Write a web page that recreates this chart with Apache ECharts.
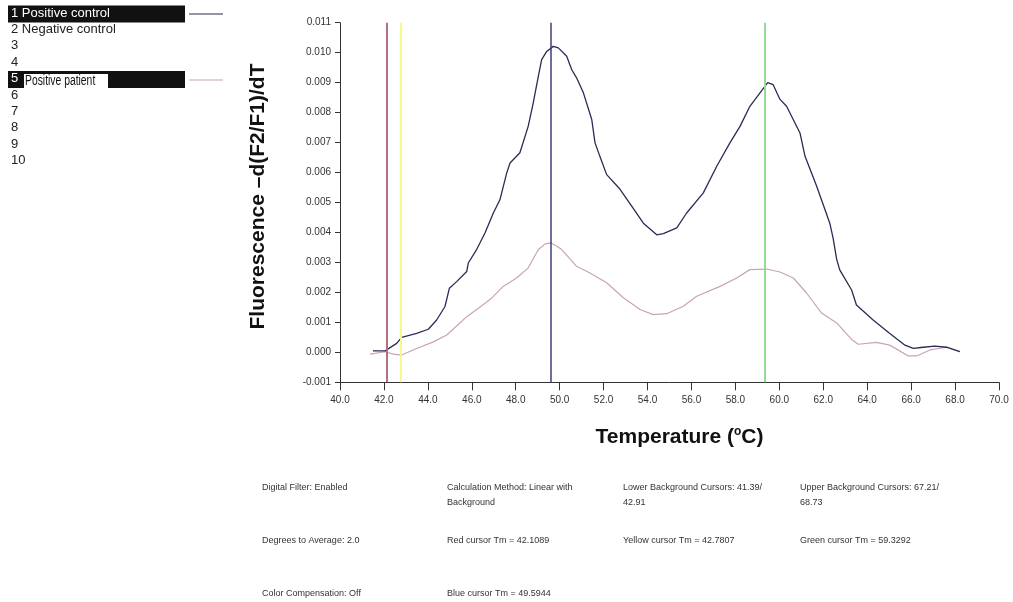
<!DOCTYPE html>
<html>
<head>
<meta charset="utf-8">
<script src="https://cdn.jsdelivr.net/npm/echarts@6/dist/echarts.min.js"></script>
<style>
  html, body { margin: 0; padding: 0; background: #fff; }
  #chart { width: 1013px; height: 602px; }
</style>
</head>
<body>
<div id="chart"></div>
<script>
// melting curve, sample 1 (positive control): temperature / -d(F2/F1)/dT
var posTemp = [41.50, 42.05, 42.58, 42.81, 43.49, 44.02, 44.40, 44.78, 44.98, 45.31, 45.77, 45.84, 46.22, 46.60, 46.98, 47.28,
  47.59, 47.74, 48.19, 48.57, 48.80, 49.03, 49.18, 49.41, 49.71, 49.94, 50.32, 50.55, 50.77, 51.08, 51.46, 51.61, 51.83,
  52.14, 52.74, 53.35, 53.81, 54.42, 54.72, 55.33, 55.78, 56.54, 57.15, 57.75, 58.21, 58.66, 59.12, 59.47, 59.72, 60.03,
  60.33, 60.94, 61.17, 61.70, 62.08, 62.30, 62.45, 62.61, 62.75, 63.29, 63.51, 64.27, 65.03, 65.72, 66.10, 66.55, 67.08,
  67.61, 68.22];
var posFluor = [0.00005, 0.00005, 0.00030, 0.00050, 0.00063, 0.00077, 0.00108, 0.00153, 0.00214, 0.00236, 0.00270, 0.00298,
  0.00343, 0.00398, 0.00465, 0.00509, 0.00599, 0.00632, 0.00666, 0.00755, 0.00833, 0.00922, 0.00977, 0.01004, 0.01021,
  0.01016, 0.00988, 0.00943, 0.00916, 0.00866, 0.00777, 0.00699, 0.00654, 0.00593, 0.00545, 0.00480, 0.00431, 0.00392,
  0.00396, 0.00415, 0.00465, 0.00532, 0.00621, 0.00699, 0.00754, 0.00821, 0.00866, 0.00900, 0.00893, 0.00844, 0.00821,
  0.00732, 0.00654, 0.00554, 0.00476, 0.00430, 0.00380, 0.00310, 0.00275, 0.00208, 0.00158, 0.00108, 0.00063, 0.00024,
  0.00013, 0.00017, 0.00021, 0.00017, 0.00002];

// sample 5 (positive patient)
var patTemp = [41.37, 42.05, 42.43, 42.81, 43.49, 44.25, 44.86, 45.31, 45.77, 46.30, 46.83, 47.43, 48.04, 48.57, 49.03,
  49.35, 49.60, 49.86, 50.09, 50.77, 51.38, 52.14, 52.90, 53.66, 54.26, 54.87, 55.63, 56.24, 57.30, 58.06, 58.66, 59.42,
  60.03, 60.64, 61.24, 61.92, 62.61, 63.29, 63.59, 64.42, 65.03, 65.87, 66.25, 66.86, 67.61, 68.22];
var patFluor = [-0.00006, 0.00002, -0.00006, -0.00009, 0.00013, 0.00035, 0.00058, 0.00088, 0.00119, 0.00147, 0.00176,
  0.00220, 0.00248, 0.00282, 0.00343, 0.00362, 0.00365, 0.00355, 0.00343, 0.00287, 0.00265, 0.00232, 0.00182, 0.00143,
  0.00126, 0.00129, 0.00154, 0.00187, 0.00220, 0.00248, 0.00276, 0.00278, 0.00268, 0.00248, 0.00198, 0.00131, 0.00098,
  0.00043, 0.00027, 0.00033, 0.00024, -0.00012, -0.00012, 0.00008, 0.00017, 0.00002];

// cursors
var cursorNames = ['Red', 'Yellow', 'Blue', 'Green'];
var cursorTm = [42.1089, 42.7807, 49.5944, 59.3292];
var cursorColors = ['#b4707e', '#f8f88a', '#3e3e78', '#94dc94'];

var sampleLabels = ['1 Positive control', '2 Negative control', '3', '4', '5', '6', '7', '8', '9', '10'];

var infoText = [
  ['Digital Filter: Enabled', 'Calculation Method: Linear with\nBackground', 'Lower Background Cursors: 41.39/\n42.91', 'Upper Background Cursors: 67.21/\n68.73'],
  ['Degrees to Average: 2.0', 'Red cursor Tm = 42.1089', 'Yellow cursor Tm = 42.7807', 'Green cursor Tm = 59.3292'],
  ['Color Compensation: Off', 'Blue cursor Tm = 49.5944']
];

function zip(a, b) {
  var out = [];
  for (var i = 0; i < a.length; i++) out.push([a[i], b[i]]);
  return out;
}

var chart = echarts.init(document.getElementById('chart'));

// legend list on the left
var graphics = [];
for (var i = 0; i < sampleLabels.length; i++) {
  var y = 14 + i * 16.4;
  if (i === 0 || i === 4) {
    graphics.push({type: 'rect', left: 8, top: y - 8.5, shape: {width: 177, height: 17}, style: {fill: '#111'}});
  }
  graphics.push({
    type: 'text', left: 11, top: y - 7.5,
    style: {text: sampleLabels[i], fill: (i === 0 || i === 4) ? '#fff' : '#222', font: '13px Arial'}
  });
}
graphics.push({type: 'rect', left: 24, top: 74, shape: {width: 84, height: 16}, style: {fill: '#fff'}});
graphics.push({type: 'text', x: 25, y: 74.5, scaleX: 0.74, scaleY: 1, style: {text: 'Positive patient', fill: '#111', font: '14px Arial'}});
graphics.push({type: 'line', shape: {x1: 189, y1: 14, x2: 223, y2: 14}, style: {stroke: '#2b2b55', lineWidth: 1}});
graphics.push({type: 'line', shape: {x1: 189, y1: 80, x2: 223, y2: 80}, style: {stroke: '#c9a3b6', lineWidth: 1}});

// run settings below the chart
var colX = [262, 447, 623, 800];
var rowY = [480, 533, 586];
for (var r = 0; r < infoText.length; r++) {
  for (var c = 0; c < infoText[r].length; c++) {
    graphics.push({
      type: 'text', left: colX[c], top: rowY[r],
      style: {text: infoText[r][c], fill: '#333', font: '9px Arial', lineHeight: 15}
    });
  }
}

var option = {
  animation: false,
  backgroundColor: '#fff',
  grid: {left: 340, top: 22.7, right: 14, bottom: 219.7, containLabel: false},
  xAxis: {
    type: 'value', min: 40, max: 70, interval: 2,
    name: 'Temperature ({sup|o}C)',
    nameLocation: 'middle', nameGap: 43,
    nameTextStyle: {
      fontFamily: 'Arial', fontWeight: 'bold', fontSize: 21, color: '#111', padding: [0, 0, 0, 20],
      rich: {sup: {fontFamily: 'Arial', fontWeight: 'bold', fontSize: 12, color: '#111', verticalAlign: 'top', lineHeight: 24}}
    },
    axisLine: {show: true, onZero: false, lineStyle: {color: '#333', width: 1}},
    axisTick: {show: true, length: 8, lineStyle: {color: '#333'}},
    axisLabel: {margin: 13, fontFamily: 'Arial', fontSize: 10, color: '#333', formatter: function (v) { return v.toFixed(1); }},
    splitLine: {show: false}
  },
  yAxis: {
    type: 'value', min: -0.001, max: 0.011, interval: 0.001,
    name: 'Fluorescence \u2013d(F2/F1)/dT',
    nameLocation: 'middle', nameGap: 71,
    nameTextStyle: {fontFamily: 'Arial', fontWeight: 'bold', fontSize: 21, color: '#111', padding: [0, 0, 0, 12]},
    axisLine: {show: true, onZero: false, lineStyle: {color: '#333', width: 1}},
    axisTick: {show: true, length: 5, lineStyle: {color: '#333'}},
    axisLabel: {margin: 9, fontFamily: 'Arial', fontSize: 10, color: '#333', formatter: function (v) { return v.toFixed(3); }},
    splitLine: {show: false}
  },
  series: [
    {
      name: 'Positive patient', type: 'line', data: zip(patTemp, patFluor),
      symbol: 'none', smooth: false, lineStyle: {color: '#c9a3b6', width: 1.2}
    },
    {
      name: 'Positive control', type: 'line', data: zip(posTemp, posFluor),
      symbol: 'none', smooth: false, lineStyle: {color: '#2b2b55', width: 1.3}
    },
    {
      name: 'cursors', type: 'line', data: [], z: 5,
      markLine: {
        silent: true, symbol: ['none', 'none'], label: {show: false}, animation: false,
        data: cursorTm.map(function (t, i) {
          return {name: cursorNames[i], xAxis: t, lineStyle: {color: cursorColors[i], width: i === 2 ? 1.5 : 2, type: 'solid'}};
        })
      }
    }
  ],
  graphic: graphics
};

chart.setOption(option);
</script>
</body>
</html>
